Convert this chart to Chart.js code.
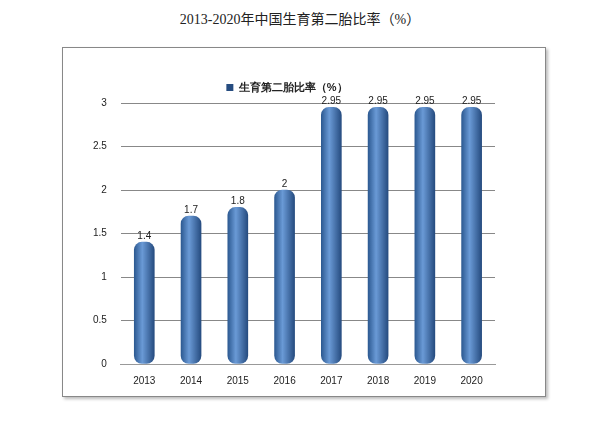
<!DOCTYPE html>
<html>
<head>
<meta charset="utf-8">
<script src="https://cdn.jsdelivr.net/npm/chart.js@4"></script>
<style>
  body { margin: 0; background: #fff; width: 600px; height: 423px; position: relative; }
  #title { position: absolute; top: 8px; left: 0; width: 600px; text-align: center;
           font-family: "Liberation Serif", "Noto Sans CJK SC", serif; font-size: 14px; color: #222; }
  #box { position: absolute; left: 62px; top: 47px; width: 482px; height: 348px;
         border: 1px solid #888; box-shadow: 2px 2px 3px #bbb; }
</style>
</head>
<body>
<div id="title">2013-2020年中国生育第二胎比率（%）</div>
<div id="box"><canvas id="c" width="482" height="348"></canvas></div>
<script>
// chart data
const years = ['2013', '2014', '2015', '2016', '2017', '2018', '2019', '2020'];
const rates = [1.4, 1.7, 1.8, 2, 2.95, 2.95, 2.95, 2.95];
const seriesName = '生育第二胎比率（%）';

// write the value above each bar
const valueLabels = {
  id: 'valueLabels',
  afterDatasetsDraw(chart) {
    const ctx = chart.ctx;
    ctx.save();
    ctx.font = '10px "Liberation Sans", sans-serif';
    ctx.fillStyle = '#222';
    ctx.textAlign = 'center';
    chart.getDatasetMeta(0).data.forEach((bar, i) => {
      ctx.fillText(String(rates[i]), bar.x, bar.y - 6);
    });
    ctx.restore();
  }
};

const ctx = document.getElementById('c').getContext('2d');
new Chart(ctx, {
  type: 'bar',
  data: {
    labels: years,
    datasets: [{
      label: seriesName,
      data: rates,
      backgroundColor(c) {
        const xs = c.chart.scales.x;
        if (!xs || c.dataIndex === undefined) return '#4a7ebb';
        const x = xs.getPixelForValue(c.dataIndex);
        if (!isFinite(x)) return '#4a7ebb';
        const g = c.chart.ctx.createLinearGradient(x - 10, 0, x + 10, 0);
        g.addColorStop(0, '#2d5a92');
        g.addColorStop(0.4, '#6a9ad6');
        g.addColorStop(1, '#264c80');
        return g;
      },
      borderRadius: 8,
      borderSkipped: false,
      barThickness: 20
    }]
  },
  options: {
    responsive: false,
    animation: false,
    layout: { padding: { left: 16, right: 50, top: 12, bottom: 6 } },
    plugins: {
      legend: {
        labels: { boxWidth: 7, boxHeight: 7, padding: 22, font: { size: 11, weight: 'bold' }, color: '#222' }
      },
      tooltip: { enabled: false }
    },
    scales: {
      x: {
        grid: { display: false },
        border: { color: '#999' },
        ticks: { font: { size: 10 }, color: '#222' }
      },
      y: {
        min: 0, max: 3,
        ticks: { stepSize: 0.5, font: { size: 10 }, color: '#222', padding: 14,
                 callback: v => String(v) },
        grid: { color: '#888', drawTicks: false },
        border: { display: false }
      }
    }
  },
  plugins: [valueLabels]
});
</script>
</body>
</html>
